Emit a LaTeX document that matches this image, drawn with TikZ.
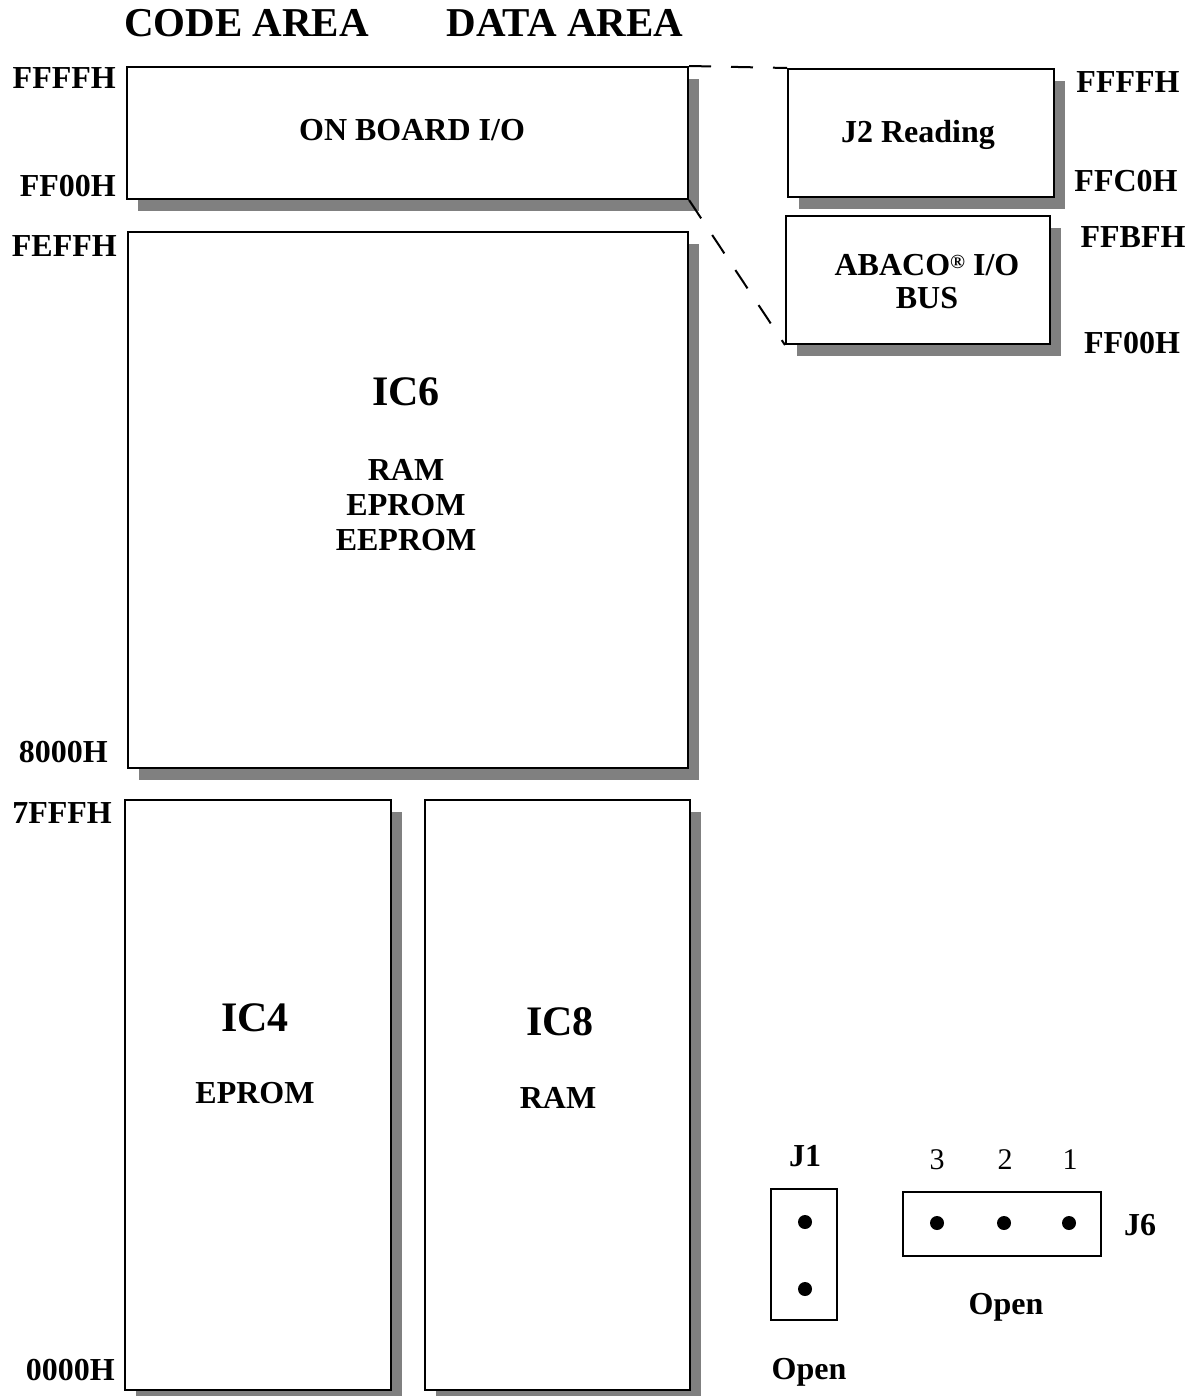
\documentclass[tikz,border=0pt]{standalone}
\usepackage{fontspec}
\setmainfont{Liberation Serif}
\usetikzlibrary{shadows}
\definecolor{shadowgray}{RGB}{128,128,128}
\begin{document}
\begin{tikzpicture}[x=1pt,y=-1pt,
  membox/.style={draw, line width=2pt, fill=white, inner sep=0pt,
    general shadow={fill=shadowgray, shadow xshift=11pt, shadow yshift=-12pt}},
  jbox/.style={draw, line width=1.5pt, fill=white, inner sep=0pt},
  lbl/.style={font=\fontsize{32}{35}\selectfont\bfseries, inner sep=0pt},
  biglbl/.style={font=\fontsize{42}{46}\selectfont\bfseries, inner sep=0pt},
  ttl/.style={font=\fontsize{41}{44}\selectfont\bfseries, inner sep=0pt},
  numlbl/.style={font=\fontsize{30}{32}\selectfont, inner sep=0pt},
  jdot/.style={circle, fill=black, inner sep=0pt, minimum size=14pt},
  dashconn/.style={line width=2pt, dash pattern=on 22pt off 20pt}]
\useasboundingbox (0,0) rectangle (1192,1396);

% titles
\node[ttl] (tcode) at (246.5,23) {CODE AREA};
\node[ttl] (tdata) at (565,23) {DATA AREA};

% memory boxes
\node[membox, minimum width=561pt, minimum height=132pt] (onboard) at (407.5,133) {};
\node[membox, minimum width=560pt, minimum height=536pt] (ic6) at (408,500) {};
\node[membox, minimum width=266pt, minimum height=590pt] (ic4) at (258,1095) {};
\node[membox, minimum width=265pt, minimum height=590pt] (ic8) at (557.5,1095) {};
\node[membox, minimum width=266pt, minimum height=128pt] (j2) at (921,133) {};
\node[membox, minimum width=264pt, minimum height=128pt] (abaco) at (918,280) {};

% box texts
\node[lbl] (tonboard) at (412,130) {ON BOARD I/O};
\node[biglbl] (tic6) at (406,392) {IC6};
\node[lbl, align=center] (tic6b) at (406,505) {RAM\\EPROM\\EEPROM};
\node[biglbl] (tic4) at (255,1018) {IC4};
\node[lbl] (tic4b) at (255,1093) {EPROM};
\node[biglbl] (tic8) at (560,1022) {IC8};
\node[lbl] (tic8b) at (558,1098) {RAM};
\node[lbl] (tj2) at (918,135) {J2 Reading};
\node[lbl, align=center, font=\fontsize{32}{33}\selectfont\bfseries] (tabaco) at (927,282)
  {ABACO{\fontsize{20}{20}\selectfont\raisebox{7pt}{®}} I/O\\BUS};

% left addresses
\node[lbl, anchor=east] (aFFFF) at (116,78) {FFFFH};
\node[lbl, anchor=east] (aFF00) at (116,186) {FF00H};
\node[lbl, anchor=east] (aFEFF) at (117,246) {FEFFH};
\node[lbl, anchor=east] (a8000) at (108,752) {8000H};
\node[lbl, anchor=east] (a7FFF) at (112,813) {7FFFH};
\node[lbl, anchor=east] (a0000) at (115,1370) {0000H};

% right addresses
\node[lbl] (rFFFF) at (1128,82) {FFFFH};
\node[lbl] (rFFC0) at (1126,181) {FFC0H};
\node[lbl] (rFFBF) at (1133,237) {FFBFH};
\node[lbl] (rFF00) at (1132,343) {FF00H};

% dashed connectors
\draw[dashconn] (onboard.north east) -- (j2.north west);
\draw[dashconn] (onboard.south east) -- (abaco.south west);

% jumpers
\node[jbox, minimum width=66pt, minimum height=131pt] (j1box) at (804,1254.5) {};
\node[jdot] (j1d1) at (805,1222) {};
\node[jdot] (j1d2) at (805,1289) {};
\node[lbl] (tj1) at (805,1156) {J1};
\node[lbl] (tj1open) at (809,1372) {Open};

\node[jbox, minimum width=198pt, minimum height=64pt] (j6box) at (1002,1224) {};
\node[jdot] (j6d3) at (937,1223) {};
\node[jdot] (j6d2) at (1004,1223) {};
\node[jdot] (j6d1) at (1069,1223) {};
\node[numlbl] (n3) at (937,1160) {3};
\node[numlbl] (n2) at (1005,1160) {2};
\node[numlbl] (n1) at (1070,1160) {1};
\node[lbl] (tj6) at (1140,1225) {J6};
\node[lbl] (tj6open) at (1006,1307) {Open};
\end{tikzpicture}
\end{document}
